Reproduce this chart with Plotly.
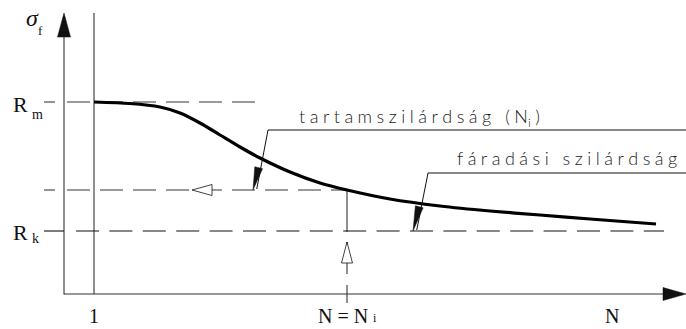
import numpy as np
import plotly.graph_objects as go

# Fatigue (Wöhler-type) curve sigma_f(N) in drawing units:
# x = position along the N axis, y = stress above the N axis
curve_x = [30, 66, 96, 116, 136, 156, 176, 196, 226, 256, 283, 326, 376, 426, 476, 526, 592]
curve_y = [192, 190.5, 187, 181, 171, 159, 147, 136, 122, 111, 104, 95, 88, 83, 79, 75, 70]

R_m = 192        # static strength level
R_k = 63         # endurance (fatigue) limit
N_1 = 30         # N = 1
N_i = 283        # N = N_i
sigma_Ni = 104   # time-dependent strength at N_i

x_labels = ["1", "N = N", "N"]
x_label_pos = [N_1, N_i - 4, 548]

INK = "#111111"
AXIS = "#333333"
DASH_GREY = "#7a7a7a"

fig = go.Figure()


def seg(xs, ys, color=AXIS, width=1.0, dash="solid"):
    fig.add_trace(go.Scatter(x=xs, y=ys, mode="lines", hoverinfo="skip",
                             line=dict(color=color, width=width, dash=dash)))


def head(tip, direction, length, half, filled=True, color=INK):
    tx, ty = tip
    dx, dy = direction
    n = np.hypot(dx, dy)
    dx, dy = dx / n, dy / n
    bx, by = tx - dx * length, ty - dy * length
    px, py = -dy, dx
    xs = [tx, bx + px * half, bx - px * half, tx]
    ys = [ty, by + py * half, by - py * half, ty]
    fig.add_trace(go.Scatter(x=xs, y=ys, mode="lines", fill="toself", hoverinfo="skip",
                             fillcolor=color if filled else "white",
                             line=dict(color=color, width=0.8 if not filled else 0.5)))


# axes
seg([0, 0], [-0.5, 258], color=AXIS, width=1.1)
seg([0, 600], [0, 0], color=AXIS, width=1.1)
head((0, 281), (0, 1), 24, 6.5)
head((622, 0), (1, 0), 23, 6.5)

# N = 1 ordinate
seg([N_1, N_1], [0, 281], color=AXIS, width=1.1)

# R_m level
seg([-20, -9], [R_m, R_m], color=DASH_GREY, width=1.6)
seg([3, 191], [R_m, R_m], color=DASH_GREY, width=1.6, dash="23px,10px")

# sigma(N_i) level and N_i ordinate
seg([-20, -9], [sigma_Ni, sigma_Ni], color=DASH_GREY, width=1.6)
seg([3, N_i], [sigma_Ni, sigma_Ni], color=DASH_GREY, width=1.6, dash="23px,10px")
seg([N_i, N_i], [sigma_Ni, 62], color=AXIS, width=1.1)
seg([N_i, N_i], [52, 20], color=AXIS, width=1.1)
seg([N_i, N_i], [9, -9], color=AXIS, width=1.1)
head((128, sigma_Ni), (-1, 0), 20, 5.5, filled=False)
head((N_i, 52), (0, 1), 21, 5.5, filled=False)

# R_k level
seg([-20, 0], [R_k, R_k], color=INK, width=1.1)
seg([12, 600], [R_k, R_k], color=INK, width=1.1, dash="23px,10.4px")

# fatigue curve
fig.add_trace(go.Scatter(x=curve_x, y=curve_y, mode="lines", hoverinfo="skip",
                         line=dict(color="#000000", width=3.2, shape="spline", smoothing=0.8)))

# leaders
seg([204, 622], [164, 164], color=INK, width=1.0)
seg([204, 189 + 15 * 0.25], [164, sigma_Ni + 1], color=INK, width=1.0)
head((189, sigma_Ni), (-15, -59), 23, 4)
seg([364, 622], [121, 121], color=INK, width=1.0)
seg([364, 349 + 15 * 0.25], [121, R_k + 1], color=INK, width=1.0)
head((349, R_k), (-15, -58), 25, 4)

ann = []
serif = "Liberation Serif"
cad = "Lato"
TRACK = "\u2009\u200a\u200a"


def tracked(s):
    # widen letter spacing in the style of a drafting lettering
    return TRACK.join(s)


def label(x, y, text, size, family=serif, xanchor="center", color=INK, weight="normal"):
    ann.append(dict(x=x, y=y, xref="x", yref="y", text=text, showarrow=False,
                    xanchor=xanchor, yanchor="middle",
                    font=dict(family=family, size=size, color=color, weight=weight)))


label(-31.5, 276, "<i>σ</i>", 24)
label(-24, 264, "f", 13)
label(-44, 190, "R", 22)
label(-27, 180, "m", 14)
label(-44, 62, "R", 22)
label(-29, 56, "k", 14)

for xp, t in zip(x_label_pos, x_labels):
    label(xp, -22, t, 20)
label(N_i + 28, -24, "i", 12)

label(233, 177, tracked("tartamszilárdság (N") + "<sub>i</sub>" + TRACK + ")", 18,
      family=cad, xanchor="left", color="#222222", weight=300)
label(391, 136, tracked("fáradási szilárdság"), 18,
      family=cad, xanchor="left", color="#222222", weight=300)

fig.update_layout(
    width=686, height=329, autosize=False,
    margin=dict(l=0, r=0, t=0, b=0),
    paper_bgcolor="white", plot_bgcolor="white",
    showlegend=False,
    xaxis=dict(range=[-64, 622], visible=False, fixedrange=True),
    yaxis=dict(range=[-35, 294], visible=False, fixedrange=True),
    annotations=ann,
)

fig.write_html("out.html")
